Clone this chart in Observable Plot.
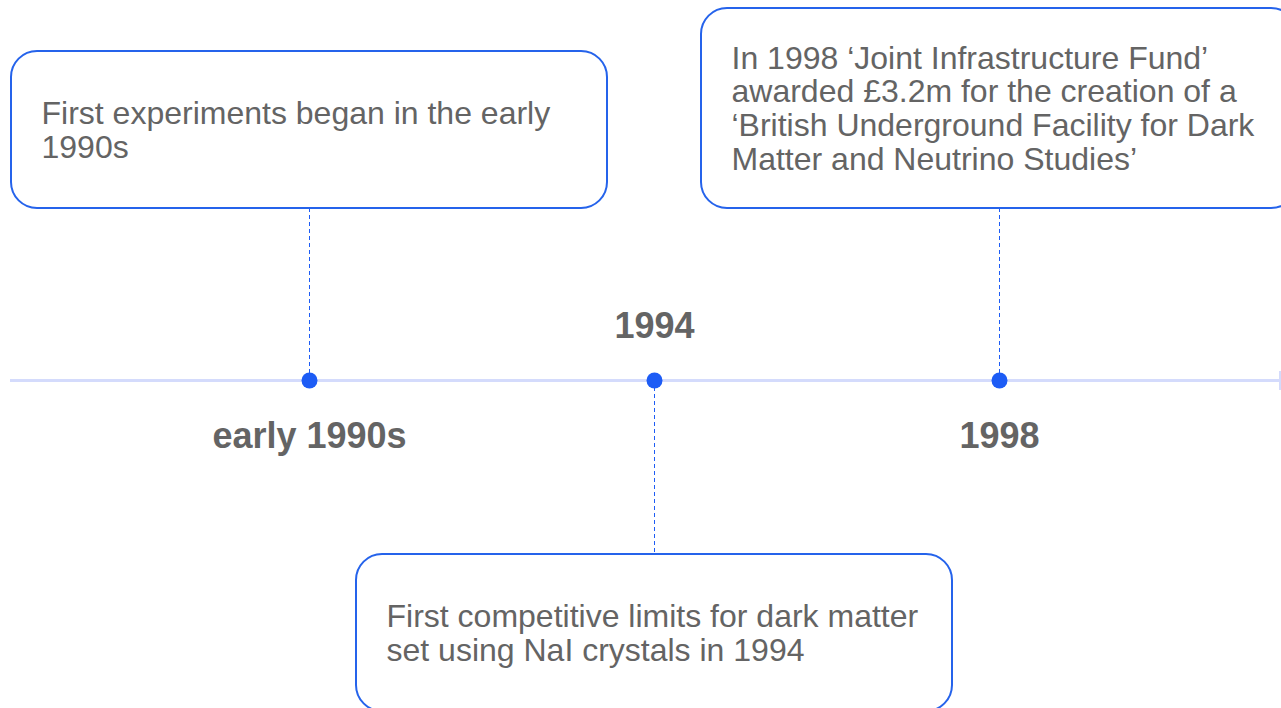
<!DOCTYPE html>
<html>
<head>
<meta charset="utf-8">
<script src="https://cdn.jsdelivr.net/npm/d3@7"></script>
<script src="https://cdn.jsdelivr.net/npm/@observablehq/plot@0.6"></script>
<style>
  html, body { margin: 0; padding: 0; background: #fff; overflow: hidden; }
  svg text { font-family: "Liberation Sans", Arial, Helvetica, sans-serif !important; }
</style>
</head>
<body>
<div id="chart"></div>
<script>
// ---- data ----
const events = ["early 1990s", "1994", "1998"];
const descriptions = [
  "First experiments began in the early\n1990s",
  "First competitive limits for dark matter\nset using NaI crystals in 1994",
  "In 1998 \u2018Joint Infrastructure Fund\u2019\nawarded \u00a33.2m for the creation of a\n\u2018British Underground Facility for Dark\nMatter and Neutrino Studies\u2019"
];
const boxSides = ["above", "below", "above"];

// ---- layout (code, not data) ----
const W = 1281, H = 708;
const axisY = 380;
const unit = 345;             // px between events
const halfBox = 298 / unit;   // half box width in x units
const boxHeights = [157, 157, 200];
const aboveBottom = 208, belowTop = 554;

const rows = events.map((e, i) => {
  const side = boxSides[i];
  const h = boxHeights[i];
  const y1 = side === "above" ? aboveBottom - h : belowTop;
  const y2 = side === "above" ? aboveBottom : belowTop + h;
  return {
    i, event: e, text: descriptions[i], side,
    x1: i - halfBox, x2: i + halfBox, y1, y2,
    cy: (y1 + y2) / 2,
    connFrom: side === "above" ? aboveBottom : axisY,
    connTo: side === "above" ? axisY : belowTop,
    labelY: side === "above" ? 436 : 326
  };
});

const blue = "#2563eb";
const grey = "#646464";
const font = "Liberation Sans, Arial, Helvetica, sans-serif";

const chart = Plot.plot({
  width: W, height: H,
  margin: 0,
  x: {type: "linear", domain: [0, 2], range: [309, 999], axis: null},
  y: {type: "linear", domain: [0, H], range: [0, H], axis: null},
  style: {fontFamily: font, background: "#fff", overflow: "hidden"},
  marks: [
    // timeline axis
    Plot.ruleY([axisY], {x1: -299 / unit, x2: 972 / unit, stroke: "#d4dbfc", strokeWidth: 3}),
    Plot.ruleX([972 / unit], {y1: axisY - 9, y2: axisY + 10, stroke: "#d4dbfc", strokeWidth: 5}),
    // connectors
    Plot.ruleX(rows, {x: "i", y1: "connFrom", y2: "connTo", stroke: "#1d5cf5", strokeWidth: 1, strokeDasharray: "4,3"}),
    // boxes
    Plot.rect(rows, {x1: "x1", x2: "x2", y1: "y1", y2: "y2", fill: "white", stroke: blue, strokeWidth: 2, rx: 26}),
    // box text
    Plot.text(rows, {x: "i", y: "cy", text: "text", dx: -268, textAnchor: "start", lineAnchor: "middle",
      fontSize: 32, lineHeight: 1.05, fill: grey, fontFamily: font}),
    // points
    Plot.dot(rows, {x: "i", y: () => axisY, r: 8, fill: "#1d5cf5", stroke: "none"}),
    // event labels
    Plot.text(rows, {x: "i", y: "labelY", text: "event", fontSize: 36, fontWeight: "bold", fill: grey,
      lineAnchor: "middle", fontFamily: font})
  ]
});
document.getElementById("chart").append(chart);
</script>
</body>
</html>
